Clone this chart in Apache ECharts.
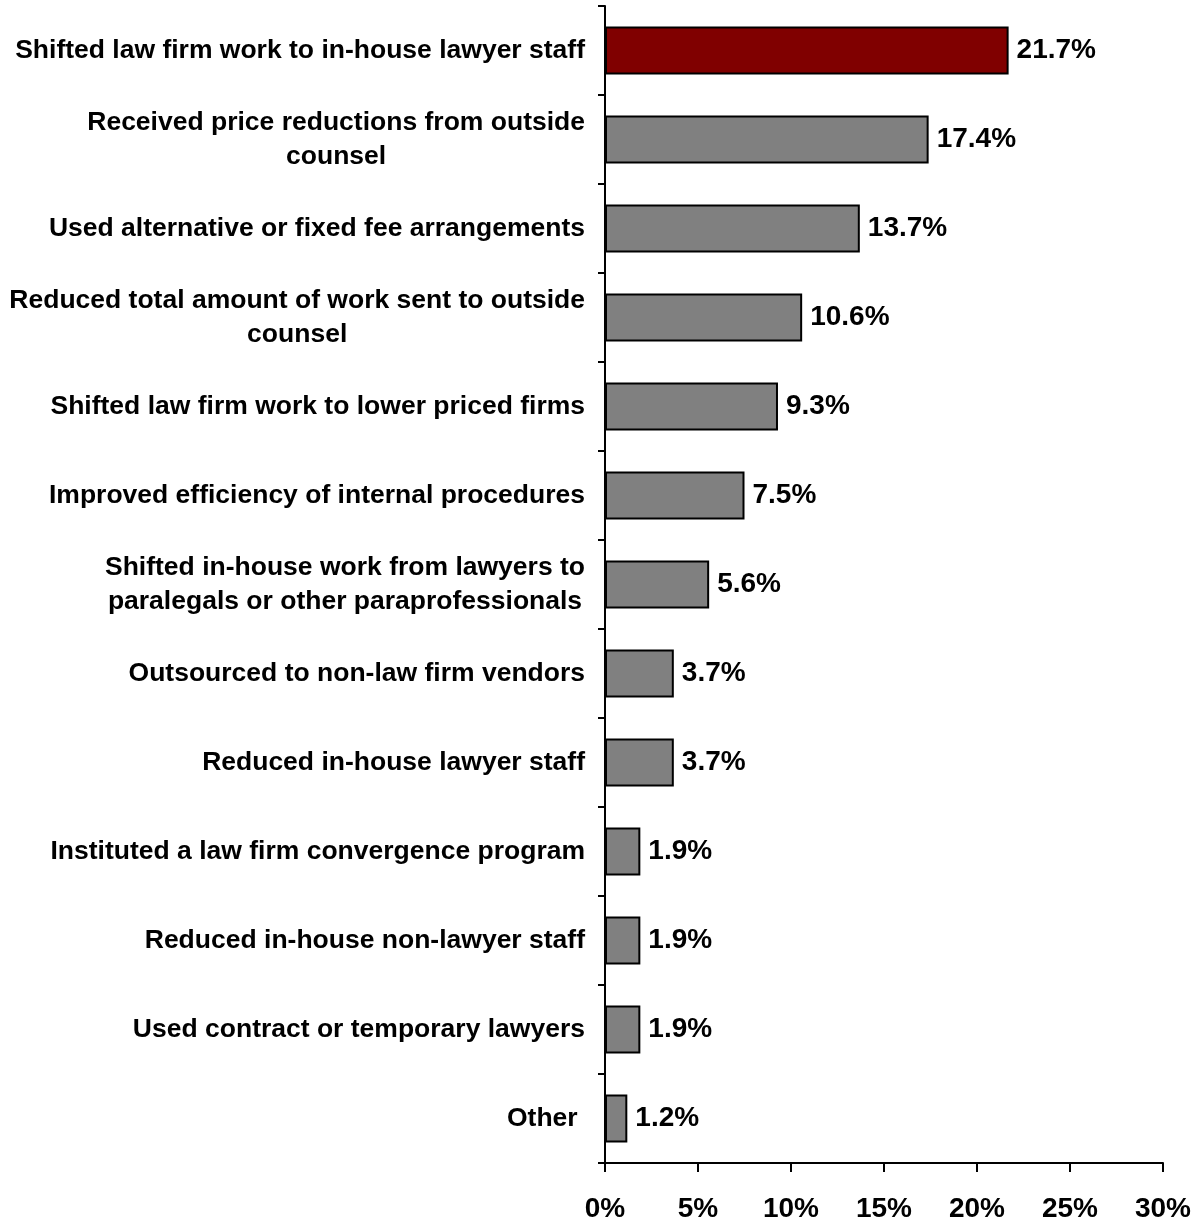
<!DOCTYPE html>
<html>
<head>
<meta charset="utf-8">
<script src="https://cdn.jsdelivr.net/npm/echarts@6/dist/echarts.min.js"></script>
<style>
  html, body { margin: 0; padding: 0; background: #fff; }
  #chart { width: 1204px; height: 1226px; }
</style>
</head>
<body>
<div id="chart"></div>
<script>
// Cost-control actions taken, share of respondents (%)
const categories = [
  'Shifted law firm work to in-house lawyer staff',
  'Received price reductions from outside\ncounsel',
  'Used alternative or fixed fee arrangements',
  'Reduced total amount of work sent to outside\ncounsel',
  'Shifted law firm work to lower priced firms',
  'Improved efficiency of internal procedures',
  'Shifted in-house work from lawyers to\nparalegals or other paraprofessionals',
  'Outsourced to non-law firm vendors',
  'Reduced in-house lawyer staff',
  'Instituted a law firm convergence program',
  'Reduced in-house non-lawyer staff',
  'Used contract or temporary lawyers',
  'Other '
];
const values = [21.7, 17.4, 13.7, 10.6, 9.3, 7.5, 5.6, 3.7, 3.7, 1.9, 1.9, 1.9, 1.2];
const xTicks = [0, 5, 10, 15, 20, 25, 30];

const FONT = '"Liberation Sans", Arial, sans-serif';
const HIGHLIGHT = '#800000';
const BAR = '#808080';

const chart = echarts.init(document.getElementById('chart'), null, { renderer: 'canvas' });

chart.setOption({
  animation: false,
  backgroundColor: '#ffffff',
  grid: { left: 605, right: 41, top: 6, bottom: 63, containLabel: false },
  xAxis: {
    type: 'value',
    min: xTicks[0],
    max: xTicks[xTicks.length - 1],
    interval: 5,
    splitLine: { show: false },
    axisLine: { show: true, lineStyle: { color: '#000', width: 2 } },
    axisTick: { show: true, length: 9, lineStyle: { color: '#000', width: 2 } },
    axisLabel: {
      margin: 32,
      color: '#000',
      fontFamily: FONT,
      fontWeight: 'bold',
      fontSize: 28,
      formatter: v => v + '%'
    }
  },
  yAxis: {
    type: 'category',
    inverse: true,
    data: categories,
    axisLine: { show: true, lineStyle: { color: '#000', width: 2 } },
    axisTick: { show: true, length: 7, lineStyle: { color: '#000', width: 2 } },
    axisLabel: {
      margin: 20,
      color: '#000',
      fontFamily: FONT,
      fontWeight: 'bold',
      fontSize: 26.5,
      lineHeight: 34,
      formatter: v => v.split('\n').map(s => '{c|' + s + '}').join('\n'),
      rich: {
        c: {
          align: 'center',
          color: '#000',
          fontFamily: FONT,
          fontWeight: 'bold',
          fontSize: 26.5,
          lineHeight: 34
        }
      }
    }
  },
  series: [{
    type: 'bar',
    data: values.map((v, i) => ({
      value: v,
      itemStyle: { color: i === 0 ? HIGHLIGHT : BAR }
    })),
    barCategoryGap: '46%',
    itemStyle: { borderColor: '#000', borderWidth: 2 },
    label: {
      show: true,
      position: 'right',
      distance: 8,
      color: '#000',
      fontFamily: FONT,
      fontWeight: 'bold',
      fontSize: 28,
      formatter: p => p.value.toFixed(1) + '%'
    }
  }]
});
</script>
</body>
</html>
